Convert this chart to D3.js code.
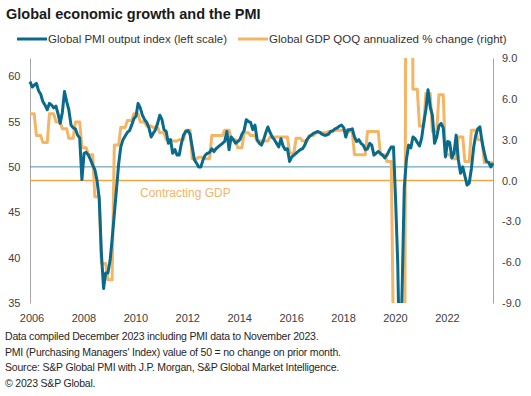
<!DOCTYPE html>
<html lang="en">
<head>
<meta charset="utf-8">
<title>Global economic growth and the PMI</title>
<script src="https://d3js.org/d3.v7.min.js"></script>
<style>
  body { margin: 0; background: #fff; }
  svg { font-family: "Liberation Sans", Arial, sans-serif; }
  .axis text { font-size: 11px; fill: #404040; font-family: "Liberation Sans", Arial, sans-serif; }
  .footer { font-size: 10.5px; fill: #262626; letter-spacing: -0.2px; }
  .legend text { font-size: 11.5px; fill: #333; }
</style>
</head>
<body>
<script>
// Global PMI output index, monthly, Jan 2006 - Nov 2023
var pmi = [
  59.4, 58.8, 59.0, 59.2, 58.4, 58.0, 57.2, 56.8, 56.3, 57.0, 56.8, 56.5, // 2006
  56.7, 55.8, 54.8, 56.0, 58.3, 57.2, 56.3, 54.6, 54.3, 54.2, 53.5, 53.2, // 2007
  48.6, 51.5, 51.6, 51.3, 50.8, 50.2, 49.7, 48.5, 46.5, 40.5, 36.6, 38.3, // 2008
  38.3, 39.7, 42.0, 44.8, 47.5, 50.3, 52.2, 53.0, 53.4, 53.8, 54.0, 54.6, // 2009
  55.3, 55.6, 57.0, 56.5, 55.7, 55.2, 54.9, 54.3, 53.3, 53.7, 54.1, 54.8, // 2010
  55.7, 55.2, 54.1, 53.9, 52.6, 53.0, 51.5, 51.9, 51.3, 51.3, 52.6, 53.5, // 2011
  53.9, 54.0, 53.6, 52.2, 50.8, 50.4, 50.0, 50.0, 50.8, 51.3, 51.5, 51.6, // 2012
  52.0, 51.7, 52.0, 52.2, 52.4, 52.6, 52.8, 53.9, 51.9, 53.3, 53.0, 52.6, // 2013
  52.8, 53.0, 53.6, 54.0, 55.2, 55.0, 54.9, 54.1, 54.6, 53.0, 52.6, 52.4, // 2014
  53.0, 53.8, 54.4, 53.8, 53.3, 53.0, 52.6, 52.2, 53.1, 52.3, 51.9, 52.0, // 2015
  50.6, 51.1, 51.3, 51.5, 51.7, 51.9, 52.0, 52.4, 53.0, 53.3, 53.5, 53.7, // 2016
  53.8, 53.9, 53.8, 53.6, 53.5, 53.5, 53.6, 53.9, 54.0, 54.2, 54.3, 54.5, // 2017
  54.6, 54.3, 53.3, 54.1, 54.1, 54.2, 53.3, 52.8, 53.0, 52.6, 52.4, 51.9, // 2018
  52.0, 52.6, 52.4, 51.3, 51.5, 51.7, 51.5, 51.3, 51.0, 51.3, 51.8, 52.2, // 2019
  52.2, 46.1, 39.4, 26.2, 36.3, 47.7, 50.8, 52.4, 52.1, 53.3, 53.1, 52.7, // 2020
  52.3, 53.2, 54.8, 56.3, 58.5, 56.6, 55.7, 52.6, 53.3, 54.5, 54.8, 54.3, // 2021
  51.1, 52.8, 52.7, 51.0, 51.5, 53.5, 50.8, 49.3, 50.0, 49.0, 48.0, 48.2, // 2022
  49.8, 52.1, 53.4, 54.2, 54.4, 52.7, 51.6, 50.6, 50.5, 50.0, 50.4        // 2023
];

// Global GDP QOQ annualized % change, quarterly, 2006 Q1 - 2023 Q4
var gdp = [
  4.9, 3.3, 2.8, 4.9,     // 2006
  4.3, 3.8, 3.1, 4.3,     // 2007
  2.4, 1.9, -1.2, -6.1,   // 2008
  -7.3, 2.6, 3.9, 4.4,    // 2009
  4.9, 4.3, 4.0, 3.9,     // 2010
  3.5, 3.0, 2.9, 3.0,     // 2011
  3.7, 1.6, 1.7, 1.6,     // 2012
  3.3, 3.3, 3.7, 3.0,     // 2013
  2.4, 3.5, 3.3, 2.9,     // 2014
  2.9, 3.2, 3.2, 3.2,     // 2015
  2.0, 3.1, 2.9, 3.3,     // 2016
  3.5, 3.5, 3.6, 3.7,     // 2017
  3.7, 3.6, 1.9, 1.9,     // 2018
  3.6, 3.6, 1.9, 1.4,     // 2019
  -12.0, -30.0, 35.0, 6.7, // 2020
  4.0, 6.4, 3.6, 6.3,     // 2021
  1.9, 1.6, 3.2, 1.4,     // 2022
  3.7, 3.0, 1.3, 1.3      // 2023
];

var leftTicks = [35, 40, 45, 50, 55, 60];
var rightTicks = [-9, -6, -3, 0, 3, 6, 9];
var pmiNoChange = 50;
var gdpNoChange = 0;

var titleText = "Global economic growth and the PMI";
var legendLabels = ["Global PMI output index (left scale)", "Global GDP QOQ annualized % change (right)"];
var footerLines = [
  "Data compiled December 2023 including PMI data to November 2023.",
  "PMI (Purchasing Managers' Index) value of 50 = no change on prior month.",
  "Source: S&P Global PMI with J.P. Morgan, S&P Global Market Intelligence.",
  "\u00a9 2023 S&P Global."
];

var width = 531, height = 396;
var blue = "#0a6a8c", orange = "#f4b564";

var svg = d3.select("body").append("svg")
    .attr("width", width)
    .attr("height", height);

// months from Jan 2006
var months = pmi.map(function(d, i) { return new Date(Date.UTC(2006, i, 1)); });

var x = d3.scaleTime()
    .domain([months[0], months[months.length - 1]])
    .range([30, 493]);
var yL = d3.scaleLinear().domain([35, 62]).range([303, 58]);
var yR = d3.scaleLinear().domain([-9, 9]).range([303, 58]);

// title
svg.append("text")
    .attr("x", 6).attr("y", 19)
    .style("font-size", "14.5px").style("font-weight", "bold")
    .attr("fill", "#1a1a1a")
    .text(titleText);

// legend
var legend = svg.append("g").attr("class", "legend");
[[17, blue, legendLabels[0]], [238, orange, legendLabels[1]]].forEach(function(l) {
  legend.append("line")
      .attr("x1", l[0]).attr("x2", l[0] + 30)
      .attr("y1", 39).attr("y2", 39)
      .attr("stroke", l[1]).attr("stroke-width", 3);
  legend.append("text")
      .attr("x", l[0] + 31).attr("y", 43)
      .text(l[2]);
});

// axes
var leftAxis = svg.append("g").attr("class", "axis")
    .attr("transform", "translate(30,0)")
    .call(d3.axisLeft(yL).tickValues(leftTicks).tickSize(0).tickPadding(9.5).tickSizeOuter(0));
var rightAxis = svg.append("g").attr("class", "axis")
    .attr("transform", "translate(493,0)")
    .call(d3.axisRight(yR).tickValues(rightTicks).tickSize(0).tickPadding(9)
      .tickFormat(d3.format(".1f")).tickSizeOuter(0));
var bottomAxis = svg.append("g").attr("class", "axis")
    .attr("transform", "translate(1.5,303)")
    .call(d3.axisBottom(x).ticks(d3.utcYear.every(2)).tickFormat(d3.utcFormat("%Y")).tickSize(0).tickPadding(11));
bottomAxis.select(".domain").remove();
svg.selectAll(".axis .domain").attr("stroke", "#a6a6a6");
svg.selectAll(".axis text").attr("font-size", null).attr("font-family", null);
rightAxis.selectAll("text").text(function(d) { return d3.format(".1f")(d).replace("\u2212", "-"); });

// reference lines
svg.append("line")
    .attr("x1", 30).attr("x2", 493)
    .attr("y1", yL(pmiNoChange)).attr("y2", yL(pmiNoChange))
    .attr("stroke", "#4a92b4").attr("stroke-width", 1);
svg.append("line")
    .attr("x1", 30).attr("x2", 493)
    .attr("y1", yR(gdpNoChange)).attr("y2", yR(gdpNoChange))
    .attr("stroke", "#efa744").attr("stroke-width", 1.5);
svg.append("text")
    .attr("x", 140).attr("y", 197)
    .style("font-size", "12px")
    .attr("fill", orange)
    .text("Contracting GDP");

// clip
svg.append("clipPath").attr("id", "plot")
  .append("rect").attr("x", 28).attr("y", 58).attr("width", 468).attr("height", 245);

var plot = svg.append("g").attr("clip-path", "url(#plot)");

// GDP stepped: each month carries its quarter's value
var gdpMonthly = months.map(function(m, i) { return { date: m, v: gdp[Math.floor(i / 3)] }; });

plot.append("path")
    .datum(gdpMonthly)
    .attr("fill", "none")
    .attr("stroke", orange)
    .attr("stroke-width", 3)
    .attr("stroke-linejoin", "round")
    .attr("d", d3.line().x(function(d) { return x(d.date); }).y(function(d) { return yR(d.v); }));

plot.append("path")
    .datum(pmi)
    .attr("fill", "none")
    .attr("stroke", blue)
    .attr("stroke-width", 3)
    .attr("stroke-linejoin", "round")
    .attr("d", d3.line().x(function(d, i) { return x(months[i]); }).y(function(d) { return yL(d); }));

// footer
svg.selectAll(".footer")
    .data(footerLines)
    .enter().append("text")
    .attr("class", "footer")
    .attr("x", 5)
    .attr("y", function(d, i) { return 340 + i * 15.5; })
    .text(function(d) { return d; });
</script>
</body>
</html>
